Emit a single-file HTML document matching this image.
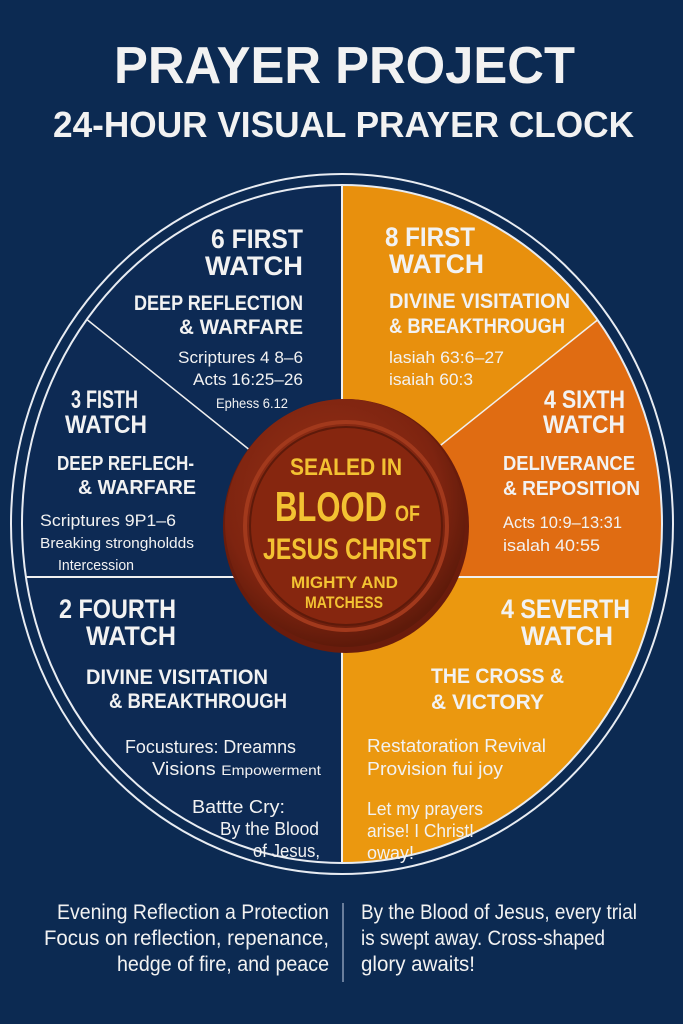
<!DOCTYPE html>
<html><head><meta charset="utf-8"><style>
html,body{margin:0;padding:0;background:#0c2a52;}
svg{display:block}
text{font-family:"Liberation Sans Narrow","Liberation Sans",sans-serif;font-weight:bold;fill:#f2f2f2}
.t{font-family:"Liberation Sans",sans-serif}
.n{font-weight:normal}
.g{fill:#f3c232}
</style></head><body>
<svg width="683" height="1024" viewBox="0 0 683 1024" xmlns="http://www.w3.org/2000/svg">
<defs>
<radialGradient id="seal" cx="45%" cy="40%" r="60%">
<stop offset="0" stop-color="#9a3418"/><stop offset="0.75" stop-color="#7e2410"/><stop offset="1" stop-color="#5e1a0a"/>
</radialGradient>
<clipPath id="c"><ellipse cx="342" cy="524" rx="320" ry="339"/></clipPath>
</defs>
<rect width="683" height="1024" fill="#0c2a52"/>
<text class="t" x="114" y="83" font-size="52" textLength="461" lengthAdjust="spacingAndGlyphs">PRAYER PROJECT</text>
<text class="t" x="53" y="137" font-size="36" textLength="581" lengthAdjust="spacingAndGlyphs">24-HOUR VISUAL PRAYER CLOCK</text>

<ellipse cx="342" cy="524" rx="331" ry="350" fill="none" stroke="#e8ecf2" stroke-width="2"/>
<g clip-path="url(#c)">
<rect x="0" y="150" width="683" height="750" fill="#0d2a54"/>
<polygon points="600,318 683,240 683,577 342,577 342,524" fill="#e06c12"/>
<polygon points="342,150 683,150 683,240 600,318 342,524" fill="#e8900d"/>
<rect x="342" y="577" width="341" height="330" fill="#eb980f"/>
<line x1="342" y1="150" x2="342" y2="900" stroke="#f0f0f0" stroke-width="2"/>
<line x1="0" y1="577" x2="260" y2="577" stroke="#f0f0f0" stroke-width="2"/>
<line x1="430" y1="577" x2="683" y2="577" stroke="#f0f0f0" stroke-width="2"/>
<line x1="85" y1="318" x2="342" y2="524" stroke="#f0f0f0" stroke-width="1.5"/>
<line x1="600" y1="318" x2="342" y2="524" stroke="#f0f0f0" stroke-width="1.5"/>
</g>
<ellipse cx="342" cy="524" rx="320" ry="339" fill="none" stroke="#e8ecf2" stroke-width="2"/>

<g lengthAdjust="spacingAndGlyphs">
<!-- top left -->
<text x="211" y="248" font-size="27" textLength="92" lengthAdjust="spacingAndGlyphs">6 FIRST</text>
<text x="205" y="275" font-size="27" textLength="98" lengthAdjust="spacingAndGlyphs">WATCH</text>
<text x="134" y="310" font-size="21" textLength="169" lengthAdjust="spacingAndGlyphs">DEEP REFLECTION</text>
<text x="179" y="334" font-size="21" textLength="124" lengthAdjust="spacingAndGlyphs">&amp; WARFARE</text>
<text class="n" x="178" y="363" font-size="17" textLength="125" lengthAdjust="spacingAndGlyphs">Scriptures 4 8–6</text>
<text class="n" x="193" y="385" font-size="17" textLength="110" lengthAdjust="spacingAndGlyphs">Acts 16:25–26</text>
<text class="n" x="216" y="408" font-size="14" textLength="72" lengthAdjust="spacingAndGlyphs">Ephess  6.12</text>
<!-- top right -->
<text x="385" y="246" font-size="27" textLength="90" lengthAdjust="spacingAndGlyphs">8 FIRST</text>
<text x="389" y="273" font-size="27" textLength="95" lengthAdjust="spacingAndGlyphs">WATCH</text>
<text x="389" y="308" font-size="21" textLength="181" lengthAdjust="spacingAndGlyphs">DIVINE VISITATION</text>
<text x="389" y="333" font-size="21" textLength="176" lengthAdjust="spacingAndGlyphs">&amp; BREAKTHROUGH</text>
<text class="n" x="389" y="363" font-size="17" textLength="115" lengthAdjust="spacingAndGlyphs">lasiah 63:6–27</text>
<text class="n" x="389" y="385" font-size="17" textLength="84" lengthAdjust="spacingAndGlyphs">isaiah 60:3</text>
<!-- left mid -->
<text x="71" y="408" font-size="25" textLength="67" lengthAdjust="spacingAndGlyphs">3 FISTH</text>
<text x="65" y="433" font-size="25" textLength="82" lengthAdjust="spacingAndGlyphs">WATCH</text>
<text x="57" y="470" font-size="20" textLength="137" lengthAdjust="spacingAndGlyphs">DEEP REFLECH-</text>
<text x="78" y="494" font-size="20" textLength="118" lengthAdjust="spacingAndGlyphs">&amp; WARFARE</text>
<text class="n" x="40" y="526" font-size="17" textLength="136" lengthAdjust="spacingAndGlyphs">Scriptures 9P1–6</text>
<text class="n" x="40" y="548" font-size="15" textLength="154" lengthAdjust="spacingAndGlyphs">Breaking strongholdds</text>
<text class="n" x="58" y="570" font-size="15" textLength="76" lengthAdjust="spacingAndGlyphs">Intercession</text>
<!-- right mid -->
<text x="544" y="408" font-size="25" textLength="81" lengthAdjust="spacingAndGlyphs">4 SIXTH</text>
<text x="543" y="433" font-size="25" textLength="82" lengthAdjust="spacingAndGlyphs">WATCH</text>
<text x="503" y="470" font-size="20" textLength="132" lengthAdjust="spacingAndGlyphs">DELIVERANCE</text>
<text x="503" y="495" font-size="20" textLength="137" lengthAdjust="spacingAndGlyphs">&amp;    REPOSITION</text>
<text class="n" x="503" y="528" font-size="17" textLength="119" lengthAdjust="spacingAndGlyphs">Acts 10:9–13:31</text>
<text class="n" x="503" y="551" font-size="17" textLength="97" lengthAdjust="spacingAndGlyphs">isalah 40:55</text>
<!-- bottom left -->
<text x="59" y="618" font-size="27" textLength="117" lengthAdjust="spacingAndGlyphs">2 FOURTH</text>
<text x="86" y="645" font-size="27" textLength="90" lengthAdjust="spacingAndGlyphs">WATCH</text>
<text x="86" y="684" font-size="21" textLength="182" lengthAdjust="spacingAndGlyphs">DIVINE VISITATION</text>
<text x="109" y="708" font-size="21" textLength="178" lengthAdjust="spacingAndGlyphs">&amp; BREAKTHROUGH</text>
<text class="n" x="125" y="753" font-size="18" textLength="171" lengthAdjust="spacingAndGlyphs">Focustures:  Dreamns</text>
<text class="n" x="152" y="775" font-size="18" textLength="169" lengthAdjust="spacingAndGlyphs">Visions  <tspan font-size="14">Empowerment</tspan></text>
<text class="n" x="192" y="813" font-size="18" textLength="93" lengthAdjust="spacingAndGlyphs">Battte Cry:</text>
<text class="n" x="220" y="835" font-size="18" textLength="99" lengthAdjust="spacingAndGlyphs">By the Blood</text>
<text class="n" x="253" y="857" font-size="18" textLength="67" lengthAdjust="spacingAndGlyphs">of Jesus,</text>
<!-- bottom right -->
<text x="501" y="618" font-size="27" textLength="129" lengthAdjust="spacingAndGlyphs">4 SEVERTH</text>
<text x="521" y="645" font-size="27" textLength="92" lengthAdjust="spacingAndGlyphs">WATCH</text>
<text x="431" y="683" font-size="21" textLength="133" lengthAdjust="spacingAndGlyphs">THE CROSS &amp;</text>
<text x="431" y="709" font-size="21" textLength="113" lengthAdjust="spacingAndGlyphs">&amp; VICTORY</text>
<text class="n" x="367" y="752" font-size="18" textLength="179" lengthAdjust="spacingAndGlyphs">Restatoration   Revival</text>
<text class="n" x="367" y="775" font-size="18" textLength="136" lengthAdjust="spacingAndGlyphs">Provision  fui joy</text>
<text class="n" x="367" y="815" font-size="18" textLength="116" lengthAdjust="spacingAndGlyphs">Let my prayers</text>
<text class="n" x="367" y="837" font-size="18" textLength="107" lengthAdjust="spacingAndGlyphs">arise! I Christ!</text>
<text class="n" x="367" y="859" font-size="18" textLength="47" lengthAdjust="spacingAndGlyphs">oway!</text>
</g>

<!-- seal -->
<ellipse cx="346" cy="526" rx="123" ry="127" fill="#6a1c0c"/>
<ellipse cx="345" cy="523" rx="120" ry="124" fill="url(#seal)"/>
<ellipse cx="346" cy="526" rx="101" ry="104" fill="none" stroke="#a2391c" stroke-width="4"/>
<ellipse cx="346" cy="526" rx="96" ry="99" fill="#86260f" stroke="#5e1a0a" stroke-width="2"/>
<text class="g" x="290" y="475" font-size="24" textLength="112" lengthAdjust="spacingAndGlyphs">SEALED IN</text>
<text class="g" x="275" y="521" font-size="42" textLength="112" lengthAdjust="spacingAndGlyphs">BLOOD</text>
<text class="g" x="395" y="521" font-size="22" textLength="25" lengthAdjust="spacingAndGlyphs">OF</text>
<text class="g" x="263" y="559" font-size="30" textLength="168" lengthAdjust="spacingAndGlyphs">JESUS CHRIST</text>
<text class="g" x="291" y="588" font-size="17" textLength="107" lengthAdjust="spacingAndGlyphs">MIGHTY AND</text>
<text class="g" x="305" y="608" font-size="17" textLength="78" lengthAdjust="spacingAndGlyphs">MATCHESS</text>

<!-- bottom text -->
<line x1="343" y1="903" x2="343" y2="982" stroke="#8a9ab4" stroke-width="1.5"/>
<g font-size="21">
<text class="n" x="57" y="919" textLength="272" lengthAdjust="spacingAndGlyphs">Evening  Reflection a Protection</text>
<text class="n" x="44" y="945" textLength="285" lengthAdjust="spacingAndGlyphs">Focus on reflection, repenance,</text>
<text class="n" x="117" y="971" textLength="212" lengthAdjust="spacingAndGlyphs">hedge of fire, and peace</text>
<text class="n" x="361" y="919" textLength="276" lengthAdjust="spacingAndGlyphs">By the Blood of Jesus, every trial</text>
<text class="n" x="361" y="945" textLength="244" lengthAdjust="spacingAndGlyphs">is swept away. Cross-shaped</text>
<text class="n" x="361" y="971" textLength="114" lengthAdjust="spacingAndGlyphs">glory awaits!</text>
</g>
</svg>
</body></html>
